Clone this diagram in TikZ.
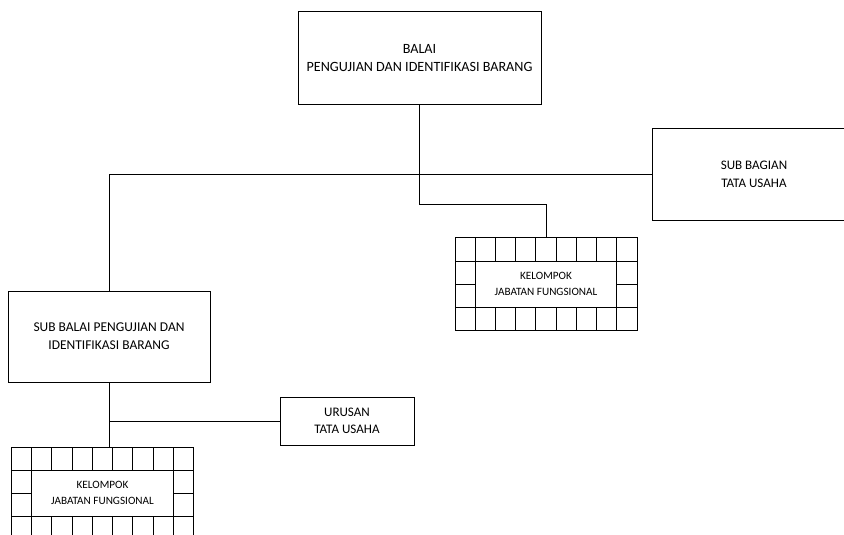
\documentclass[tikz,border=0pt]{standalone}
\usepackage{fontspec}
\setmainfont{Carlito}
\usetikzlibrary{calc}

\begin{document}
\begin{tikzpicture}[
  x=0.75pt, y=-0.75pt,
  line width=0.75pt,
  every node/.style={font=\fontsize{9.8}{13.2}\selectfont},
  unit/.style={draw,align=center,inner sep=1pt},
  kel/.style={draw,align=center,inner sep=0pt,
    minimum width=136.5pt,minimum height=69pt,
    font=\fontsize{8.4}{12.5}\selectfont,
    path picture={
      \foreach \i in {1,...,8}{
        \draw ($(path picture bounding box.north west)+(\i*20.22,0)$) -- ++(0,23);
        \draw ($(path picture bounding box.south west)+(\i*20.22,0)$) -- ++(0,-23);
      }
      \draw ($(path picture bounding box.north west)+(0,23)$) -- ($(path picture bounding box.north east)+(0,23)$);
      \draw ($(path picture bounding box.south west)+(0,-23)$) -- ($(path picture bounding box.south east)+(0,-23)$);
      \draw ($(path picture bounding box.north west)+(20.22,0)$) -- ($(path picture bounding box.south west)+(20.22,0)$);
      \draw ($(path picture bounding box.north east)+(-20.22,0)$) -- ($(path picture bounding box.south east)+(-20.22,0)$);
      \draw (path picture bounding box.west) -- ++(20.22,0);
      \draw (path picture bounding box.east) -- ++(-20.22,0);
    }}
]
\useasboundingbox (0,0) rectangle (844,535);
\node[unit,minimum width=182.25pt,minimum height=69.75pt,font=\fontsize{10.6}{13.5}\selectfont] (balai) at (419.5,58.5) {BALAI\\PENGUJIAN DAN IDENTIFIKASI BARANG};
\node[unit,minimum width=153pt,minimum height=69pt,font=\fontsize{9.8}{13.5}\selectfont] (subbag) at (754,174.5) {SUB BAGIAN\\TATA USAHA};
\node[kel] (kel1) at (546,284) {KELOMPOK\\JABATAN FUNGSIONAL};
\node[unit,minimum width=151.5pt,minimum height=68.25pt,font=\fontsize{10.1}{13.5}\selectfont] (subbalai) at (109,336.5) {SUB BALAI PENGUJIAN DAN\\IDENTIFIKASI BARANG};
\node[unit,minimum width=100.5pt,minimum height=36pt] (urusan) at (347,421) {URUSAN\\TATA USAHA};
\node[kel] (kel2) at (102.5,493) {KELOMPOK\\JABATAN FUNGSIONAL};
% connectors
\draw (balai.south) -- ++(0,99) -| (kel1.north);
\draw (subbag.west) -- (subbalai.north |- subbag.west) -- (subbalai.north);
\draw (subbalai.south) -- (subbalai.south |- kel2.north);
\draw (urusan.west) -- (subbalai.south |- urusan.west);
\end{tikzpicture}
\end{document}
